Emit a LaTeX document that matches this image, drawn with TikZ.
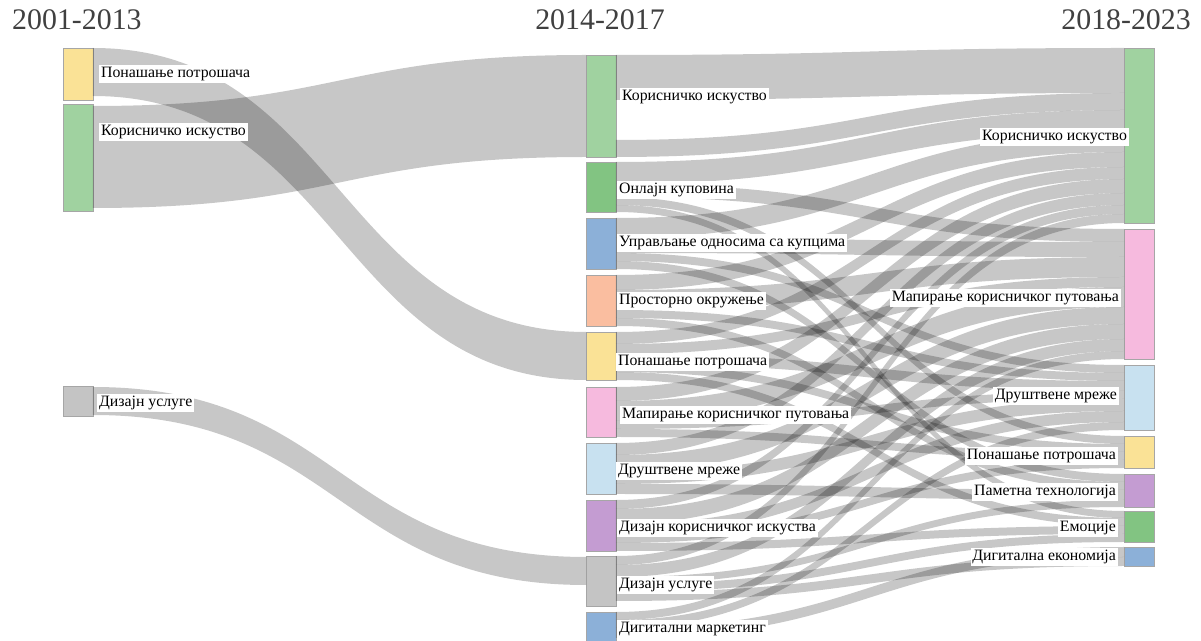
\documentclass[tikz,border=0pt]{standalone}
\usepackage{fontspec}
\setmainfont{Liberation Serif}
\usetikzlibrary{calc,positioning}

\definecolor{cyellow}{RGB}{250,226,150}
\definecolor{cgreen}{RGB}{160,210,160}
\definecolor{cgreenb}{RGB}{130,196,130}
\definecolor{cblue}{RGB}{140,176,216}
\definecolor{csalmon}{RGB}{250,190,160}
\definecolor{cpink}{RGB}{246,186,222}
\definecolor{clblue}{RGB}{200,225,240}
\definecolor{cpurple}{RGB}{196,156,210}
\definecolor{cgray}{RGB}{196,196,196}

\newcommand{\snode}[5]{\node[bar, fill=#5, minimum height=#4*0.02cm, anchor=north west] (#1) at (#2,#3) {};}
\newcommand{\flow}[5]{%
  \coordinate (fa) at ($(#1.north east)+(0,#2)$);
  \coordinate (fb) at ($(#1.north east)+(0,#2+#5)$);
  \coordinate (ta) at ($(#3.north west)+(0,#4)$);
  \coordinate (tb) at ($(#3.north west)+(0,#4+#5)$);
  \coordinate (fm) at ($(fa)!0.5!(ta)$);
  \fill[band] (fa) .. controls (fm |- fa) and (fm |- ta) .. (ta) -- (tb)
    .. controls (fm |- tb) and (fm |- fb) .. (fb) -- cycle;}

\begin{document}
\begin{tikzpicture}[x=0.02cm, y=-0.02cm,
    bar/.style={rectangle, draw=black!35, line width=0.4pt, minimum width=0.6cm, inner sep=0pt, outer sep=0pt},
    band/.style={fill=black, fill opacity=0.22},
    lbl/.style={fill=white, inner sep=1pt, font=\fontsize{9}{10}\selectfont},
    title/.style={font=\fontsize{17}{20}\selectfont, text=black!75}
  ]
  \useasboundingbox (0,0) rectangle (1201,641);

  \node[title, anchor=west] (h1) at (6,20) {2001-2013};
  \node[title] (h2) at (600,20) {2014-2017};
  \node[title, anchor=east] (h3) at (1197,20) {2018-2023};

  % 2001-2013
  \snode{p1}{63}{48}{52}{cyellow}
  \snode{k1}{63}{104}{107}{cgreen}
  \snode{d1}{63}{386}{30}{cgray}
  % 2014-2017
  \snode{k2}{586}{55}{102}{cgreen}
  \snode{o2}{586}{162}{50}{cgreenb}
  \snode{u2}{586}{218}{51}{cblue}
  \snode{po2}{586}{275}{51}{csalmon}
  \snode{p2}{586}{332}{48}{cyellow}
  \snode{m2}{586}{387}{50}{cpink}
  \snode{dm2}{586}{443}{51}{clblue}
  \snode{dk2}{586}{500}{51}{cpurple}
  \snode{du2}{586}{556}{50}{cgray}
  \snode{dg2}{586}{612}{29}{cblue}
  % 2018-2023
  \snode{k3}{1124}{48}{175}{cgreen}
  \snode{m3}{1124}{229}{130}{cpink}
  \snode{dm3}{1124}{365}{65}{clblue}
  \snode{p3}{1124}{436}{32}{cyellow}
  \snode{t3}{1124}{474}{33}{cpurple}
  \snode{e3}{1124}{511}{31}{cgreenb}
  \snode{de3}{1124}{547}{19}{cblue}

  \flow{p1}{0}{p2}{0}{48}
  \flow{k1}{2}{k2}{0}{102}
  \flow{d1}{1}{du2}{1}{28}

  \flow{k2}{0}{k3}{0}{45}
  \flow{k2}{85}{k3}{45}{17}
  \flow{o2}{0}{k3}{62}{22}
  \flow{o2}{22}{m3}{0}{13}
  \flow{o2}{35}{p3}{0}{8}
  \flow{o2}{43}{e3}{0}{7}
  \flow{u2}{0}{k3}{84}{20}
  \flow{u2}{20}{m3}{13}{15}
  \flow{u2}{35}{dm3}{0}{8}
  \flow{u2}{43}{t3}{0}{8}
  \flow{po2}{0}{k3}{104}{15}
  \flow{po2}{15}{m3}{28}{20}
  \flow{po2}{35}{dm3}{8}{8}
  \flow{po2}{43}{t3}{8}{8}
  \flow{p2}{0}{k3}{119}{12}
  \flow{p2}{12}{m3}{48}{10}
  \flow{p2}{22}{dm3}{16}{10}
  \flow{p2}{32}{p3}{8}{8}
  \flow{p2}{40}{e3}{7}{8}
  \flow{m2}{0}{k3}{131}{14}
  \flow{m2}{14}{m3}{58}{20}
  \flow{m2}{34}{dm3}{26}{8}
  \flow{m2}{42}{p3}{16}{8}
  \flow{dm2}{0}{k3}{145}{12}
  \flow{dm2}{12}{m3}{78}{17}
  \flow{dm2}{29}{dm3}{34}{12}
  \flow{dm2}{41}{t3}{16}{10}
  \flow{dk2}{0}{k3}{157}{9}
  \flow{dk2}{9}{m3}{95}{15}
  \flow{dk2}{24}{dm3}{46}{11}
  \flow{dk2}{35}{p3}{24}{8}
  \flow{dk2}{43}{e3}{15}{8}
  \flow{du2}{0}{k3}{166}{9}
  \flow{du2}{9}{m3}{110}{12}
  \flow{du2}{21}{t3}{26}{7}
  \flow{du2}{28}{e3}{23}{8}
  \flow{du2}{36}{de3}{10}{9}
  \flow{dg2}{0}{m3}{122}{8}
  \flow{dg2}{8}{dm3}{57}{8}
  \flow{dg2}{16}{de3}{0}{10}

  \node[lbl, anchor=west] (lp1) at (99,74) {Понашање потрошача};
  \node[lbl, anchor=west] (lk1) at (99,132) {Корисничко искуство};
  \node[lbl, anchor=west] (ld1) at (97,403) {Дизајн услуге};

  \node[lbl, anchor=west] (lk2) at (620,97) {Корисничко искуство};
  \node[lbl, anchor=west] (lo2) at (617,190) {Онлајн куповина};
  \node[lbl, anchor=west] (lu2) at (617,243) {Управљање односима са купцима};
  \node[lbl, anchor=west] (lpo2) at (617,301) {Просторно окружење};
  \node[lbl, anchor=west] (lp2) at (616,362) {Понашање потрошача};
  \node[lbl, anchor=west] (lm2) at (620,415) {Мапирање корисничког путовања};
  \node[lbl, anchor=west] (ldm2) at (616,471) {Друштвене мреже};
  \node[lbl, anchor=west] (ldk2) at (617,528) {Дизајн корисничког искуства};
  \node[lbl, anchor=west] (ldu2) at (617,585) {Дизајн услуге};
  \node[lbl, anchor=west] (ldg2) at (617,629) {Дигитални маркетинг};

  \node[lbl, anchor=east] (lk3) at (1129,137) {Корисничко искуство};
  \node[lbl, anchor=east] (lm3) at (1121,298) {Мапирање корисничког путовања};
  \node[lbl, anchor=east] (ldm3) at (1119,396) {Друштвене мреже};
  \node[lbl, anchor=east] (lp3) at (1118,456) {Понашање потрошача};
  \node[lbl, anchor=east] (lt3) at (1118,492) {Паметна технологија};
  \node[lbl, anchor=east] (le3) at (1118,528) {Емоције};
  \node[lbl, anchor=east] (lde3) at (1118,557) {Дигитална економија};
\end{tikzpicture}
\end{document}
